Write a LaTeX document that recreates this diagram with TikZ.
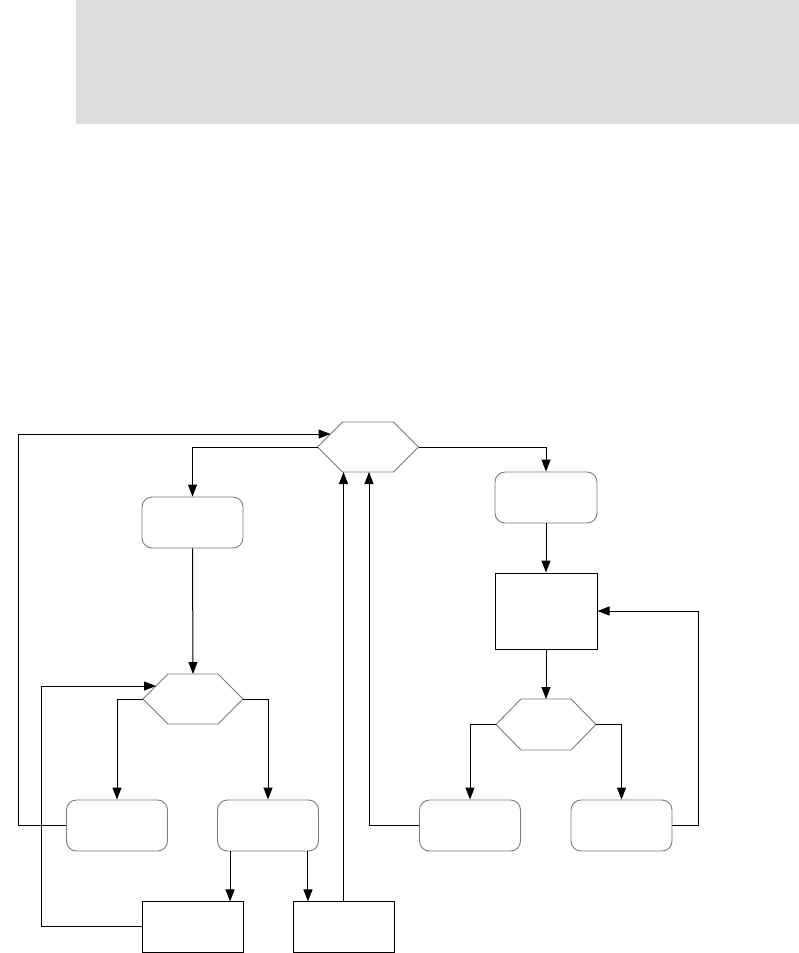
\documentclass[tikz,border=0pt]{standalone}
\usetikzlibrary{arrows.meta}
\definecolor{bandgray}{HTML}{DCDDDC}
\definecolor{edgegray}{HTML}{7A7A7A}
\tikzset{
  x=1pt, y=-1pt,
  hexline/.style={draw=edgegray, line width=0.9pt, line join=miter},
  hexa/.style={rectangle, draw=none, outer sep=0pt, minimum width=101pt, minimum height=50pt, inner sep=0pt,
    append after command={\pgfextra{\draw[hexline] (\tikzlastnode.west)
      -- ([xshift=25pt]\tikzlastnode.north west) -- ([xshift=-25pt]\tikzlastnode.north east)
      -- (\tikzlastnode.east) -- ([xshift=-25pt]\tikzlastnode.south east)
      -- ([xshift=25pt]\tikzlastnode.south west) -- cycle;}}},
  rbox/.style={rectangle, rounded corners=10pt, draw=edgegray, line width=0.9pt,
    minimum width=101pt, minimum height=51pt, inner sep=0pt},
  sbox/.style={rectangle, draw=black, line width=1pt, minimum width=101pt, minimum height=51pt, inner sep=0pt},
  conn/.style={draw=black, line width=1pt},
  arr/.style={conn, -{Triangle[length=12pt,width=9pt]}},
}
\begin{document}
\begin{tikzpicture}
\useasboundingbox (0,0) rectangle (799,953);
\fill[bandgray] (76,0) rectangle (799,124);

\node[hexa] (hT) at (368,447) {};
\node[rbox] (rL) at (192.5,522.5) {};
\node[rbox, minimum width=102pt] (rR) at (546,497.5) {};
\node[sbox, minimum width=102pt, minimum height=76pt] (bxR) at (546,611) {};
\node[hexa, minimum width=100pt] (hL) at (193,699) {};
\node[hexa, minimum width=100pt, minimum height=51pt] (hR) at (546,724.5) {};
\node[rbox] (rBL) at (117,825.5) {};
\node[rbox] (rBM) at (268,825.5) {};
\node[rbox] (rBC) at (470,825.5) {};
\node[rbox] (rBD) at (621.5,825.5) {};
\node[sbox] (bxA) at (192.5,926.5) {};
\node[sbox] (bxB) at (343.5,926.5) {};

% top hexagon branches
\draw[arr] (hT.west) -| (rL.north);
\draw[arr] (hT.east) -| (rR.north);
\draw[arr] (rL.south) -- (hL.north);
\draw[arr] (rR.south) -- (bxR.north);
\draw[arr] (bxR.south) -- (hR.north);
% left hexagon branches
\draw[arr] (hL.west) -| (rBL.north);
\draw[arr] (hL.east) -| (rBM.north);
% right hexagon branches
\draw[arr] (hR.west) -| (rBC.north);
\draw[arr] (hR.east) -| (rBD.north);
% bottom middle to boxes
\draw[arr] ([xshift=13pt]rBM.south west) -- +(0,50);
\draw[arr] ([xshift=-11pt]rBM.south east) -- +(0,50);
% feedback loops
\draw[arr] (rBL.west) -- (18,825.5) |- ([xshift=13pt,yshift=13pt]hT.west);
\draw[arr] (bxA.west) -- (41,926.5) |- ([xshift=13pt,yshift=13pt]hL.west);
\draw[arr] (bxB.north) -- (bxB.north |- hT.south);
\draw[arr] (rBC.west) -| ([xshift=1pt]hT.south);
\draw[arr] (rBD.east) -- (698,825.5) |- (bxR.east);
\end{tikzpicture}
\end{document}
